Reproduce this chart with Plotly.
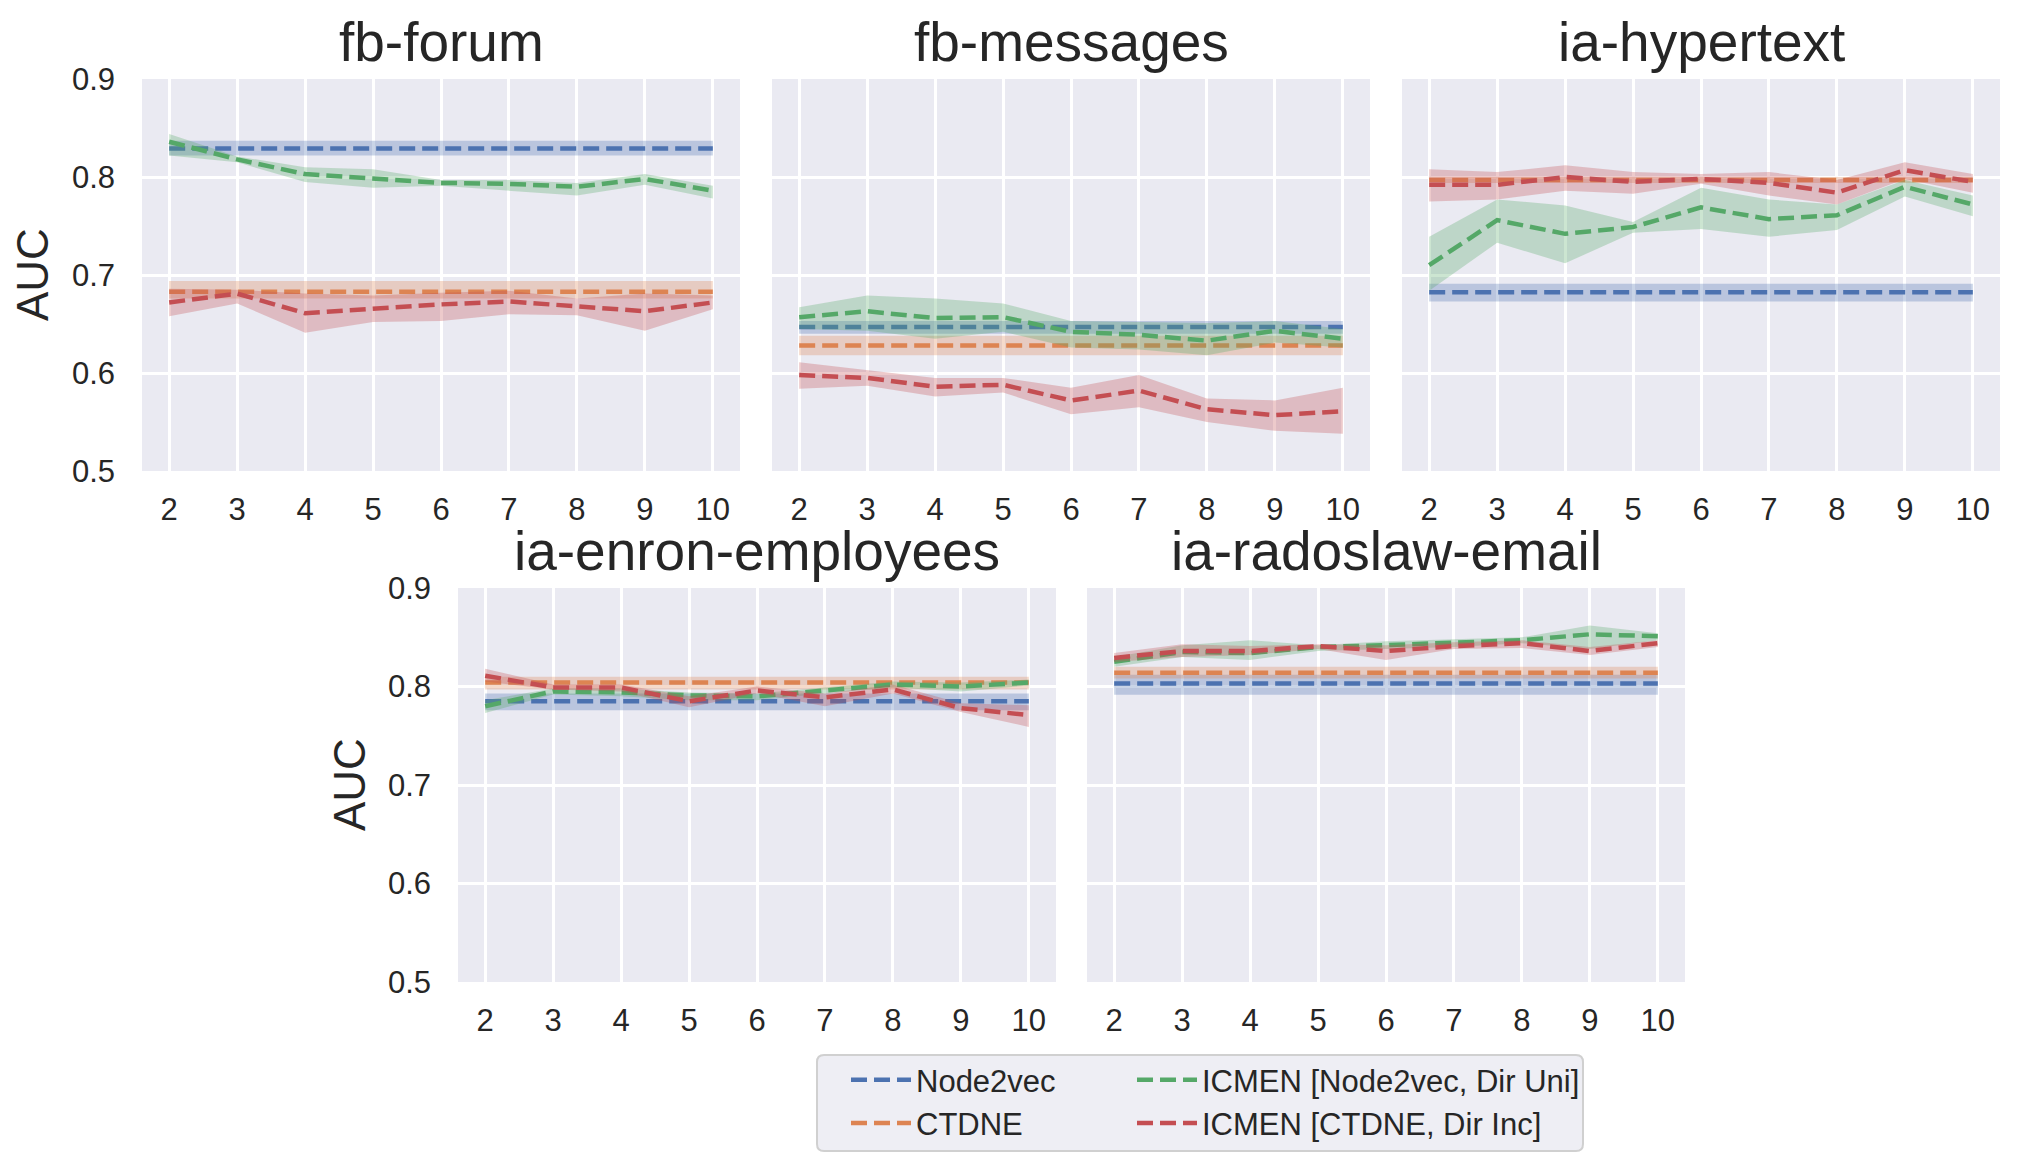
import plotly.graph_objects as go

# ---------------- data ----------------
K = [2, 3, 4, 5, 6, 7, 8, 9, 10]
SERIES = ["Node2vec", "CTDNE", "ICMEN [Node2vec, Dir Uni]", "ICMEN [CTDNE, Dir Inc]"]
TITLES = ["fb-forum", "fb-messages", "ia-hypertext", "ia-enron-employees", "ia-radoslaw-email"]
Y_TICKS = [0.5, 0.6, 0.7, 0.8, 0.9]

# fb-forum
forum_n2v = [0.829] * 9
forum_n2v_lo = [0.822] * 9
forum_n2v_hi = [0.837] * 9
forum_ctd = [0.683] * 9
forum_ctd_lo = [0.676] * 9
forum_ctd_hi = [0.694] * 9
forum_uni = [0.836, 0.818, 0.803, 0.799, 0.794, 0.793, 0.790, 0.798, 0.786]
forum_uni_lo = [0.822, 0.815, 0.795, 0.789, 0.791, 0.786, 0.781, 0.792, 0.778]
forum_uni_hi = [0.844, 0.821, 0.810, 0.808, 0.797, 0.797, 0.794, 0.803, 0.791]
forum_inc = [0.672, 0.681, 0.661, 0.666, 0.670, 0.673, 0.668, 0.663, 0.672]
forum_inc_lo = [0.658, 0.671, 0.641, 0.652, 0.653, 0.660, 0.659, 0.643, 0.665]
forum_inc_hi = [0.686, 0.685, 0.681, 0.679, 0.682, 0.684, 0.676, 0.681, 0.679]

# fb-messages
msg_n2v = [0.647] * 9
msg_n2v_lo = [0.640] * 9
msg_n2v_hi = [0.653] * 9
msg_ctd = [0.628] * 9
msg_ctd_lo = [0.618] * 9
msg_ctd_hi = [0.638] * 9
msg_uni = [0.657, 0.663, 0.656, 0.657, 0.642, 0.639, 0.633, 0.643, 0.635]
msg_uni_lo = [0.645, 0.643, 0.635, 0.642, 0.626, 0.624, 0.618, 0.631, 0.626]
msg_uni_hi = [0.667, 0.679, 0.676, 0.671, 0.653, 0.652, 0.651, 0.653, 0.645]
msg_inc = [0.598, 0.595, 0.586, 0.588, 0.572, 0.582, 0.563, 0.557, 0.561]
msg_inc_lo = [0.584, 0.587, 0.576, 0.580, 0.558, 0.565, 0.550, 0.541, 0.538]
msg_inc_hi = [0.611, 0.603, 0.595, 0.595, 0.585, 0.598, 0.574, 0.572, 0.585]

# ia-hypertext
hyp_n2v = [0.6825] * 9
hyp_n2v_lo = [0.673] * 9
hyp_n2v_hi = [0.691] * 9
hyp_ctd = [0.797] * 9
hyp_ctd_lo = [0.794] * 9
hyp_ctd_hi = [0.800] * 9
hyp_uni = [0.710, 0.756, 0.742, 0.749, 0.769, 0.757, 0.761, 0.790, 0.772]
hyp_uni_lo = [0.684, 0.733, 0.712, 0.743, 0.747, 0.739, 0.746, 0.780, 0.760]
hyp_uni_hi = [0.739, 0.777, 0.771, 0.754, 0.789, 0.777, 0.772, 0.797, 0.781]
hyp_inc = [0.792, 0.792, 0.800, 0.795, 0.798, 0.794, 0.784, 0.807, 0.795]
hyp_inc_lo = [0.775, 0.777, 0.786, 0.783, 0.793, 0.781, 0.772, 0.798, 0.784]
hyp_inc_hi = [0.808, 0.805, 0.812, 0.805, 0.803, 0.805, 0.797, 0.815, 0.803]

# ia-enron-employees
enr_n2v = [0.785] * 9
enr_n2v_lo = [0.776] * 9
enr_n2v_hi = [0.793] * 9
enr_ctd = [0.804] * 9
enr_ctd_lo = [0.797] * 9
enr_ctd_hi = [0.810] * 9
enr_uni = [0.780, 0.795, 0.794, 0.791, 0.790, 0.796, 0.802, 0.800, 0.804]
enr_uni_lo = [0.773, 0.792, 0.790, 0.786, 0.786, 0.793, 0.799, 0.795, 0.801]
enr_uni_hi = [0.786, 0.798, 0.798, 0.794, 0.793, 0.799, 0.805, 0.804, 0.807]
enr_inc = [0.811, 0.799, 0.799, 0.785, 0.796, 0.789, 0.797, 0.778, 0.771]
enr_inc_lo = [0.805, 0.797, 0.795, 0.779, 0.793, 0.780, 0.793, 0.774, 0.759]
enr_inc_hi = [0.818, 0.802, 0.802, 0.790, 0.800, 0.793, 0.802, 0.783, 0.781]

# ia-radoslaw-email
rad_n2v = [0.803] * 9
rad_n2v_lo = [0.7915] * 9
rad_n2v_hi = [0.812] * 9
rad_ctd = [0.814] * 9
rad_ctd_lo = [0.808] * 9
rad_ctd_hi = [0.820] * 9
rad_uni = [0.825, 0.835, 0.834, 0.840, 0.842, 0.844, 0.847, 0.853, 0.851]
rad_uni_lo = [0.820, 0.830, 0.827, 0.836, 0.838, 0.840, 0.844, 0.838, 0.847]
rad_uni_hi = [0.830, 0.842, 0.847, 0.842, 0.846, 0.848, 0.850, 0.862, 0.854]
rad_inc = [0.829, 0.836, 0.836, 0.841, 0.836, 0.841, 0.844, 0.836, 0.844]
rad_inc_lo = [0.825, 0.830, 0.832, 0.838, 0.827, 0.838, 0.839, 0.832, 0.840]
rad_inc_hi = [0.834, 0.843, 0.841, 0.843, 0.842, 0.845, 0.847, 0.840, 0.847]

DATASETS = [
    [(forum_n2v, forum_n2v_lo, forum_n2v_hi), (forum_ctd, forum_ctd_lo, forum_ctd_hi),
     (forum_uni, forum_uni_lo, forum_uni_hi), (forum_inc, forum_inc_lo, forum_inc_hi)],
    [(msg_n2v, msg_n2v_lo, msg_n2v_hi), (msg_ctd, msg_ctd_lo, msg_ctd_hi),
     (msg_uni, msg_uni_lo, msg_uni_hi), (msg_inc, msg_inc_lo, msg_inc_hi)],
    [(hyp_n2v, hyp_n2v_lo, hyp_n2v_hi), (hyp_ctd, hyp_ctd_lo, hyp_ctd_hi),
     (hyp_uni, hyp_uni_lo, hyp_uni_hi), (hyp_inc, hyp_inc_lo, hyp_inc_hi)],
    [(enr_n2v, enr_n2v_lo, enr_n2v_hi), (enr_ctd, enr_ctd_lo, enr_ctd_hi),
     (enr_uni, enr_uni_lo, enr_uni_hi), (enr_inc, enr_inc_lo, enr_inc_hi)],
    [(rad_n2v, rad_n2v_lo, rad_n2v_hi), (rad_ctd, rad_ctd_lo, rad_ctd_hi),
     (rad_uni, rad_uni_lo, rad_uni_hi), (rad_inc, rad_inc_lo, rad_inc_hi)],
]

# ---------------- style ----------------
W, H = 2025, 1153
COLORS = ["#4C72B0", "#DD8452", "#55A868", "#C44E52"]
FILLS = ["rgba(76,114,176,0.3)", "rgba(221,132,82,0.3)",
         "rgba(85,168,104,0.3)", "rgba(196,78,82,0.3)"]
FONT = "Liberation Sans, Arial, sans-serif"
TXT = "#262626"
BG = "#EAEAF2"

# pixel boxes (left, right, top, bottom)
BOXES = [(142, 740, 79, 471), (772, 1370, 79, 471), (1402, 2000, 79, 471),
         (458, 1056, 588, 982), (1087, 1685, 588, 982)]


def px_x(p):
    return p / W


def px_y(p):
    return 1 - p / H


fig = go.Figure()
for i, (ds, box) in enumerate(zip(DATASETS, BOXES)):
    n = i + 1
    xa = "x" if n == 1 else f"x{n}"
    ya = "y" if n == 1 else f"y{n}"
    for s, (mean, lo, hi) in enumerate(ds):
        fig.add_trace(go.Scatter(x=K, y=lo, xaxis=xa, yaxis=ya, mode="lines",
                                 line=dict(width=0, color=FILLS[s]), showlegend=False,
                                 hoverinfo="skip"))
        fig.add_trace(go.Scatter(x=K, y=hi, xaxis=xa, yaxis=ya, mode="lines",
                                 line=dict(width=0, color=FILLS[s]), fill="tonexty",
                                 fillcolor=FILLS[s], showlegend=False, hoverinfo="skip"))
        fig.add_trace(go.Scatter(x=K, y=mean, xaxis=xa, yaxis=ya, mode="lines",
                                 name=SERIES[s],
                                 line=dict(color=COLORS[s], width=4.5, dash="16px,7px"),
                                 showlegend=(i == 0),
                                 legend="legend" if s < 2 else "legend2"))

layout = dict(
    width=W, height=H, margin=dict(l=0, r=0, t=0, b=0, autoexpand=False),
    paper_bgcolor="white", plot_bgcolor=BG,
    font=dict(family=FONT, color=TXT, size=31),
    showlegend=True,
)
for i, box in enumerate(BOXES):
    n = i + 1
    l, r, t, b = box
    xkey = "xaxis" if n == 1 else f"xaxis{n}"
    ykey = "yaxis" if n == 1 else f"yaxis{n}"
    layout[xkey] = dict(
        domain=[px_x(l), px_x(r)], range=[1.6, 10.4], tickmode="array",
        tickvals=K, ticktext=[str(k) for k in K],
        showgrid=True, gridcolor="white", gridwidth=2.5, zeroline=False,
        showline=False, ticks="", ticklabelstandoff=17,
        tickfont=dict(size=31, color=TXT, family=FONT),
        anchor="y" if n == 1 else f"y{n}", automargin=False,
    )
    layout[ykey] = dict(
        domain=[px_y(b), px_y(t)], range=[0.5, 0.9], tickmode="array",
        tickvals=Y_TICKS, ticktext=[f"{v:.1f}" for v in Y_TICKS],
        showgrid=True, gridcolor="white", gridwidth=2.5, zeroline=False,
        showline=False, ticks="", ticklabelstandoff=26,
        showticklabels=(n in (1, 4)),
        tickfont=dict(size=31, color=TXT, family=FONT),
        anchor="x" if n == 1 else f"x{n}", automargin=False,
    )

annotations = []
for i, (title, box) in enumerate(zip(TITLES, BOXES)):
    l, r, t, b = box
    annotations.append(dict(
        text=title, x=px_x((l + r) / 2), y=px_y(t - 37), xref="paper", yref="paper",
        xanchor="center", yanchor="middle", showarrow=False,
        font=dict(size=55, color=TXT, family=FONT)))
for (l, r, t, b) in (BOXES[0], BOXES[3]):
    annotations.append(dict(
        text="AUC", x=px_x(l - 109), y=px_y((t + b) / 2), xref="paper", yref="paper",
        xanchor="center", yanchor="middle", showarrow=False, textangle=-90,
        font=dict(size=44, color=TXT, family=FONT)))
layout["annotations"] = annotations

layout["legend"] = dict(x=px_x(846), y=px_y(1053), xanchor="left", yanchor="top",
                        bgcolor="rgba(0,0,0,0)", borderwidth=0, itemwidth=60,
                        traceorder="normal",
                        font=dict(size=31, color=TXT, family=FONT), tracegroupgap=0)
layout["legend2"] = dict(x=px_x(1132), y=px_y(1053), xanchor="left", yanchor="top",
                         bgcolor="rgba(0,0,0,0)", borderwidth=0, itemwidth=60,
                         traceorder="normal",
                         font=dict(size=31, color=TXT, family=FONT), tracegroupgap=0)

# rounded legend frame
L, R, T, B, rad = 817, 1583, 1055, 1151, 7
path = (f"M {px_x(L + rad)},{px_y(T)} L {px_x(R - rad)},{px_y(T)} "
        f"Q {px_x(R)},{px_y(T)} {px_x(R)},{px_y(T + rad)} "
        f"L {px_x(R)},{px_y(B - rad)} Q {px_x(R)},{px_y(B)} {px_x(R - rad)},{px_y(B)} "
        f"L {px_x(L + rad)},{px_y(B)} Q {px_x(L)},{px_y(B)} {px_x(L)},{px_y(B - rad)} "
        f"L {px_x(L)},{px_y(T + rad)} Q {px_x(L)},{px_y(T)} {px_x(L + rad)},{px_y(T)} Z")
layout["shapes"] = [dict(type="path", path=path, xref="paper", yref="paper",
                         fillcolor="#EEEEF4", line=dict(color="#D0D0D0", width=2),
                         layer="below")]

fig.update_layout(**layout)
fig.write_html("out.html")
